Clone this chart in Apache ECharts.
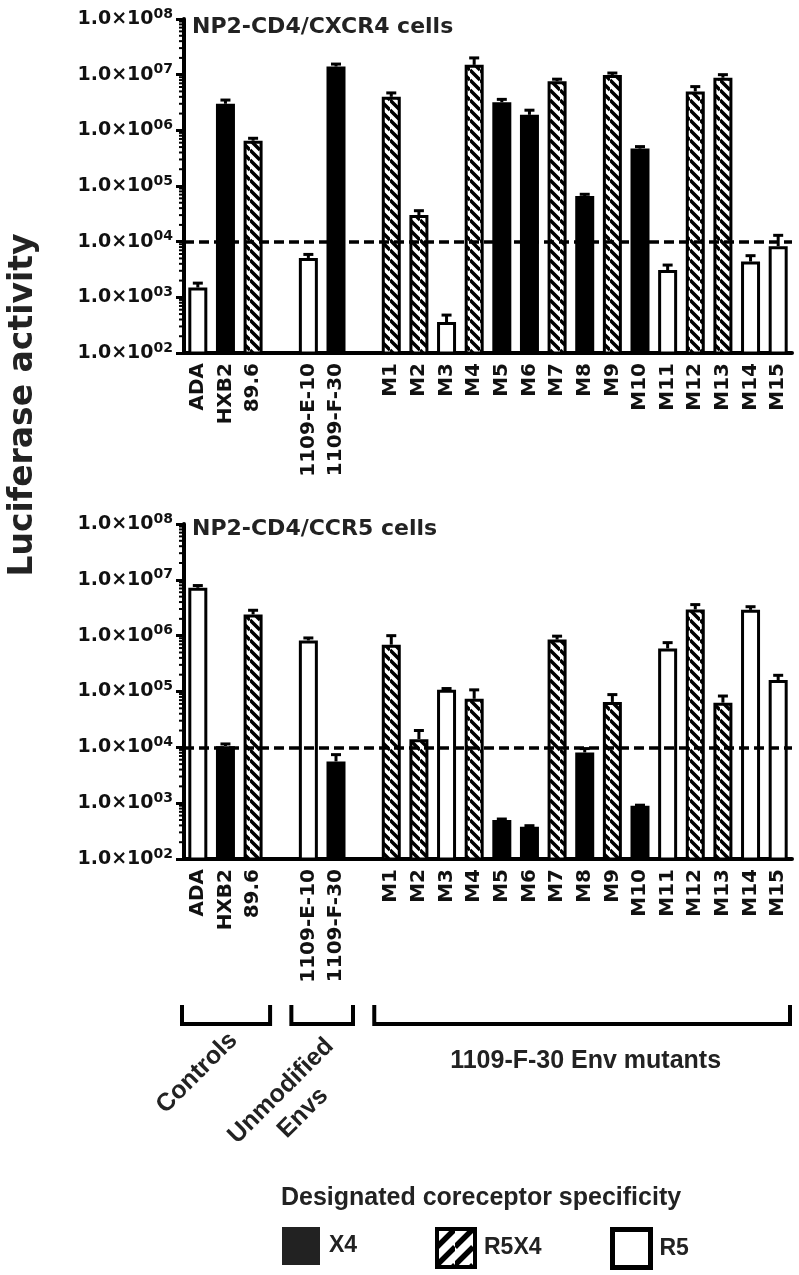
<!DOCTYPE html>
<html><head><meta charset="utf-8">
<script src="https://cdn.jsdelivr.net/npm/echarts@6/dist/echarts.min.js"></script>
<style>html,body{margin:0;padding:0;background:#fff}#c{width:799px;height:1275px}</style>
</head><body><div id="c"></div>
<script>
// ---------------- data ----------------
const categories = ['ADA','HXB2','89.6',' ','1109-E-10','1109-F-30','  ',
  'M1','M2','M3','M4','M5','M6','M7','M8','M9','M10','M11','M12','M13','M14','M15'];
const coreceptor = ['R5','X4','R5X4',null,'R5','X4',null,
  'R5X4','R5X4','R5','R5X4','X4','X4','R5X4','X4','R5X4','X4','R5','R5X4','R5X4','R5','R5'];
const cxcr4Values = [1500, 3.0e6, 6.5e5, null, 5.1e3, 1.4e7, null,
  4.0e6, 3.0e4, 360, 1.5e7, 3.2e6, 1.9e6, 7.6e6, 6.6e4, 9.9e6, 4.7e5, 3.1e3, 5.0e6, 8.8e6, 4.4e3, 8.3e3];
const cxcr4Errors = [300, 5e5, 7e4, null, 800, 1.5e6, null,
  7e5, 6e3, 120, 5e6, 4e5, 4e5, 7e5, 5e3, 8e5, 4e4, 700, 1.1e6, 1.2e6, 1.2e3, 4.7e3];
const ccr5Values = [7.2e6, 1.05e4, 2.4e6, null, 8.2e5, 5.6e3, null,
  6.9e5, 1.4e4, 1.07e5, 7.4e4, 500, 380, 8.5e5, 8.1e3, 6.5e4, 900, 5.9e5, 2.95e6, 6.3e4, 2.9e6, 1.6e5];
const ccr5Errors = [7e5, 1e3, 4.5e5, null, 9e4, 1.8e3, null,
  3.1e5, 6e3, 6e3, 3.3e4, 20, 15, 1.3e5, 1.4e3, 2.3e4, 20, 1.6e5, 6.5e5, 2e4, 4e5, 3.5e4];
const panelTitles = ['NP2-CD4/CXCR4 cells', 'NP2-CD4/CCR5 cells'];
const cutoffValue = 1e4;
const decadeStarts = [1e2, 1e3, 1e4, 1e5, 1e6, 1e7];
const minorMantissas = [2, 3, 4, 5, 6, 7, 8, 9];
const legendTypes = ['X4', 'R5X4', 'R5'];
const groupLabels = ['Controls', 'Unmodified\nEnvs', '1109-F-30 Env mutants'];
const groupRanges = [['ADA', '89.6'], ['1109-E-10', '1109-F-30'], ['M1', 'M15']];
const yAxisName = 'Luciferase activity';
const legendTitle = 'Designated coreceptor specificity';

// ---------------- styles ----------------
const BOLD_WIDE = 'DejaVu Sans';
const BOLD_ARIAL = 'Liberation Sans';
function hatch(size, width, dir) {
  const c = document.createElement('canvas'); c.width = c.height = size;
  const ctx = c.getContext('2d');
  ctx.fillStyle = '#fff'; ctx.fillRect(0, 0, size, size);
  ctx.strokeStyle = '#000'; ctx.lineWidth = width; ctx.beginPath();
  for (let k = -1; k <= 1; k++) {
    if (dir === 'back') { ctx.moveTo(0, k * size); ctx.lineTo(size, size + k * size); }
    else { ctx.moveTo(0, size + k * size); ctx.lineTo(size, k * size); }
  }
  ctx.stroke(); return c;
}
const barHatch = hatch(10, 3.5, 'back');
const legendHatch = hatch(18, 5.5, 'fwd');
const barStyles = {
  X4: { color: '#000', borderColor: '#000', borderWidth: 3 },
  R5X4: { color: { image: barHatch, repeat: 'repeat' }, borderColor: '#000', borderWidth: 3 },
  R5: { color: '#fff', borderColor: '#000', borderWidth: 3 }
};
const legendStyles = {
  X4: { color: '#222', borderColor: '#222', borderWidth: 0 },
  R5X4: { color: { image: legendHatch, repeat: 'repeat' }, borderColor: '#000', borderWidth: 4 },
  R5: { color: '#fff', borderColor: '#000', borderWidth: 5 }
};
const legendLefts = [282, 435, 610];

const grids = [
  { left: 184, width: 608, top: 19, height: 334 },
  { left: 184, width: 608, top: 524, height: 335 }
];

function yLabel(v) {
  const e = Math.round(Math.log10(v));
  return '{m|1.0×10}{s|' + String(e).padStart(2, '0') + '}';
}

const xAxes = [], yAxes = [], series = [], titles = [];
[cxcr4Values, ccr5Values].forEach((values, p) => {
  const errors = p === 0 ? cxcr4Errors : ccr5Errors;
  titles.push({ text: panelTitles[p], left: 192, top: p === 0 ? 16 : 518, padding: 0,
    textStyle: { fontFamily: BOLD_WIDE, fontWeight: 'bold', fontSize: 22, color: '#222' } });
  xAxes.push({
    type: 'category', gridIndex: p, data: categories,
    axisLine: { onZero: false, lineStyle: { color: '#000', width: 4 } },
    axisTick: { alignWithLabel: true, length: 8, lineStyle: { color: '#000', width: 3 },
      interval: (i, v) => String(v).trim() !== '' },
    axisLabel: { rotate: 90, interval: 0, margin: 10, fontFamily: BOLD_WIDE, fontWeight: 'bold',
      fontSize: 20, color: '#111' },
    splitLine: { show: false }
  });
  yAxes.push({
    type: 'log', logBase: 10, gridIndex: p, min: 100, max: 1e8,
    axisLine: { show: true, lineStyle: { color: '#000', width: 4 } },
    axisTick: { show: true, length: 8, lineStyle: { color: '#000', width: 3 } },
    axisLabel: { margin: 11, formatter: yLabel, rich: {
      m: { fontFamily: BOLD_WIDE, fontWeight: 'bold', fontSize: 19, color: '#111', lineHeight: 24, verticalAlign: 'middle' },
      s: { fontFamily: BOLD_WIDE, fontWeight: 'bold', fontSize: 14, color: '#111', lineHeight: 14, verticalAlign: 'top' }
    } },
    splitLine: { show: false }
  });
  legendTypes.forEach((t, k) => {
    const s = {
      type: 'bar', name: t, xAxisIndex: p, yAxisIndex: p, barWidth: 19, barGap: '-100%',
      itemStyle: barStyles[t], emphasis: { disabled: true }, z: 2,
      data: values.map((v, i) => (coreceptor[i] === t && v != null) ? v : '-')
    };
    if (k === 0) {
      s.markLine = { silent: true, symbol: 'none', label: { show: false }, z: 5,
        lineStyle: { type: [10, 5], width: 3.5, color: '#000' },
        data: [{ yAxis: cutoffValue }] };
    }
    series.push(s);
  });
  // error bars (upper only)
  series.push({
    type: 'custom', xAxisIndex: p, yAxisIndex: p, clip: false, silent: true, z: 4,
    encode: { x: 0, y: [1, 2] },
    data: values.map((v, i) => v == null ? null : [i, v, v + errors[i]]).filter(d => d),
    renderItem: (params, api) => {
      const x = api.value(0);
      const lo = api.coord([x, api.value(1)]);
      const hi = api.coord([x, api.value(2)]);
      const st = { stroke: '#000', lineWidth: 3 };
      return { type: 'group', children: [
        { type: 'line', shape: { x1: lo[0], y1: lo[1], x2: hi[0], y2: hi[1] }, style: st },
        { type: 'line', shape: { x1: hi[0] - 5, y1: hi[1], x2: hi[0] + 5, y2: hi[1] }, style: st }
      ] };
    }
  });
  // minor log ticks on y axis
  series.push({
    type: 'custom', xAxisIndex: p, yAxisIndex: p, clip: false, silent: true, z: 4,
    encode: { x: 0, y: 1 },
    data: decadeStarts.flatMap(d => minorMantissas.map(m => [0, d * m])),
    renderItem: (params, api) => {
      const y = api.coord([0, api.value(1)])[1];
      const x0 = params.coordSys.x;
      return { type: 'line', shape: { x1: x0 - 5, y1: y, x2: x0, y2: y },
        style: { stroke: '#000', lineWidth: 2 } };
    }
  });
});

const chart = echarts.init(document.getElementById('c'), null, { renderer: 'canvas' });
chart.setOption({
  animation: false,
  backgroundColor: '#fff',
  title: titles,
  grid: grids,
  xAxis: xAxes,
  yAxis: yAxes,
  legend: legendTypes.map((t, i) => ({
    data: [{ name: t, icon: 'rect', itemStyle: legendStyles[t] }],
    left: legendLefts[i], top: 1227, itemWidth: 38, itemHeight: 38, selectedMode: false,
    padding: 0,
    textStyle: { fontFamily: BOLD_ARIAL, fontWeight: 'bold', fontSize: 23, color: '#222', padding: [3, 0, 0, 4] }
  })),
  series: series
});

// group brackets & labels, positioned through the bottom x axis
const px = name => chart.convertToPixel({ xAxisIndex: 1 }, name);
const gridL = grids[1].left, gridR = grids[1].left + grids[1].width;
const graphics = [];
groupRanges.forEach((r, g) => {
  let x1 = px(r[0]) - 17, x2 = px(r[1]) + 17;
  if (g === 0) x1 = gridL - 2;
  if (g === groupRanges.length - 1) x2 = gridR - 2;
  graphics.push({ type: 'polyline', shape: { points: [[x1, 1005], [x1, 1024], [x2, 1024], [x2, 1005]] },
    style: { stroke: '#000', lineWidth: 4, fill: null } });
});
const txt = { fontFamily: BOLD_ARIAL, fontWeight: 'bold', fill: '#222' };
graphics.push({ type: 'text', x: 197, y: 1073, rotation: Math.PI / 4,
  style: Object.assign({ text: groupLabels[0], fontSize: 25, align: 'center', verticalAlign: 'middle' }, txt) });
graphics.push({ type: 'text', x: 292, y: 1102, rotation: Math.PI / 4,
  style: Object.assign({ text: groupLabels[1], fontSize: 25, lineHeight: 31, align: 'center', verticalAlign: 'middle' }, txt) });
graphics.push({ type: 'text', x: (px(groupRanges[2][0]) + gridR) / 2 - 6, y: 1061,
  style: Object.assign({ text: groupLabels[2], fontSize: 25, align: 'center', verticalAlign: 'middle' }, txt) });
graphics.push({ type: 'text', x: 281, y: 1198,
  style: Object.assign({ text: legendTitle, fontSize: 25, align: 'left', verticalAlign: 'middle' }, txt) });
graphics.push({ type: 'text', x: 23, y: 405, rotation: Math.PI / 2,
  style: { text: yAxisName, fontFamily: BOLD_WIDE, fontWeight: 'bold', fontSize: 33, fill: '#222',
    align: 'center', verticalAlign: 'middle' } });
chart.setOption({ graphic: graphics });
</script></body></html>
